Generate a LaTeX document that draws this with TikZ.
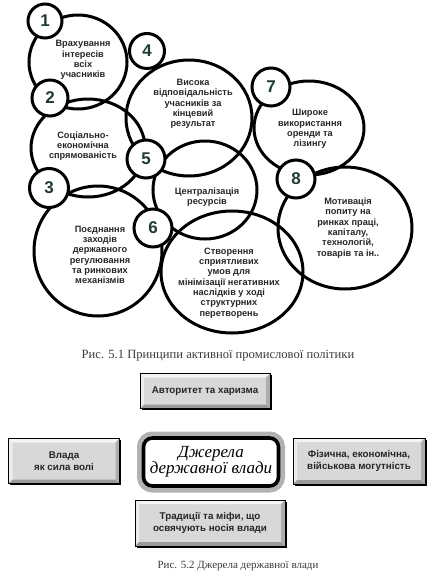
\documentclass[tikz,border=0pt]{standalone}
\usepackage{fontspec}
\setmainfont{Liberation Serif}
\setsansfont{Liberation Sans}
\usetikzlibrary{shadows}
\definecolor{numgreen}{HTML}{1E3D2E}
\definecolor{txt}{HTML}{262626}
\definecolor{boxface}{HTML}{D8D8D8}
\definecolor{bevhi}{HTML}{F4F4F4}
\definecolor{bevlo}{HTML}{9A9A9A}
\definecolor{capgray}{HTML}{3A3A3A}
\newcommand\lab{\fontsize{9.2}{10.3}\selectfont\sffamily\bfseries}
\tikzset{
  ring/.style={line width=3pt},
  num/.style={circle, draw, line width=3pt, fill=white, text=numgreen,
    font=\fontsize{17}{17}\selectfont\sffamily\bfseries, inner sep=0pt},
  clabel/.style={font=\lab, text=txt, align=center, inner sep=0pt},
  bevel/.style={draw=black, line width=0.9pt, fill=boxface, font=\fontsize{9.8}{12.5}\selectfont\sffamily\bfseries,
    text=txt, align=center, inner sep=2pt,
    drop shadow={opacity=1, fill=black, shadow xshift=1.8pt, shadow yshift=-1.8pt},
    path picture={
      \fill[bevhi] (path picture bounding box.north west) -- (path picture bounding box.north east)
        -- ([shift={(-4pt,-4pt)}]path picture bounding box.north east)
        -- ([shift={(4pt,-4pt)}]path picture bounding box.north west) -- cycle;
      \fill[bevhi!70!boxface] (path picture bounding box.north west) -- (path picture bounding box.south west)
        -- ([shift={(4pt,4pt)}]path picture bounding box.south west)
        -- ([shift={(4pt,-4pt)}]path picture bounding box.north west) -- cycle;
      \fill[bevlo] (path picture bounding box.south west) -- (path picture bounding box.south east)
        -- ([shift={(-4pt,4pt)}]path picture bounding box.south east)
        -- ([shift={(4pt,4pt)}]path picture bounding box.south west) -- cycle;
      \fill[bevlo!70!boxface] (path picture bounding box.north east) -- (path picture bounding box.south east)
        -- ([shift={(-4pt,4pt)}]path picture bounding box.south east)
        -- ([shift={(-4pt,-4pt)}]path picture bounding box.north east) -- cycle;
    }},
  caption/.style={text=capgray, inner sep=0pt}
}
\begin{document}
\begin{tikzpicture}[x=1pt,y=-1pt]
\useasboundingbox (0,0) rectangle (435,576);
% big circles
\draw[ring] (78,62) ellipse [x radius=49pt, y radius=47pt];
\draw[ring] (88,148) ellipse [x radius=57pt, y radius=49pt];
\draw[ring] (98,251) ellipse [x radius=64pt, y radius=65pt];
\draw[ring] (189,118) ellipse [x radius=63pt, y radius=58pt];
\draw[ring] (205,190) ellipse [x radius=52pt, y radius=49pt];
\draw[ring] (232,272) ellipse [x radius=71pt, y radius=61pt];
\draw[ring] (309,128) ellipse [x radius=55pt, y radius=47pt];
\draw[ring] (345,228) ellipse [x radius=67pt, y radius=61pt];
% labels
\node[clabel] (t1) at (83,60) {Врахування\\інтересів\\всіх\\учасників};
\node[clabel] (t2) at (83,146) {Соціально-\\економічна\\спрямованість};
\node[clabel] (t3) at (100,255) {Поєднання\\заходів\\державного\\регулювання\\та ринкових\\механізмів};
\node[clabel] (t4) at (193,104) {Висока\\відповідальність\\учасників за\\кінцевий\\результат};
\node[clabel] (t5) at (207,197) {Централізація\\ресурсів};
\node[clabel] (t6) at (229,283) {Створення\\сприятливих\\умов для\\мінімізації негативних\\наслідків у ході\\структурних\\перетворень};
\node[clabel] (t7) at (310,129) {Широке\\використання\\оренди та\\лізингу};
\node[clabel] (t8) at (348,228) {Мотивація\\попиту на\\ринках праці,\\капіталу,\\технологій,\\товарів та ін..};
% small numbered circles
\node[num, minimum size=34pt] (n1) at (45,21) {1};
\node[num, minimum size=35pt] (n4) at (147,51) {4};
\node[num, minimum size=36pt] (n2) at (50,98) {2};
\node[num, minimum size=38pt] (n5) at (146,159) {5};
\node[num, minimum size=39pt] (n3) at (49,188) {3};
\node[num, minimum size=38pt] (n6) at (153,228) {6};
\node[num, minimum size=38pt] (n7) at (271,87) {7};
\node[num, minimum size=38pt] (n8) at (296,179) {8};
\node[caption, font=\fontsize{12.6}{14}\selectfont] (cap1) at (218,356) {Рис. 5.1 Принципи активної промислової політики};
% figure 5.2
\node[bevel, minimum width=130pt, minimum height=35pt] (auth) at (205,391) {Авторитет та харизма};
\node[bevel, minimum width=111pt, minimum height=45pt] (will) at (64,461) {Влада\\як сила волі};
\node[bevel, minimum width=132pt, minimum height=46pt] (phys) at (359,461) {Фізична, економічна,\\військова могутність};
\node[bevel, minimum width=150pt, minimum height=46pt] (trad) at (210,523) {Традиції та міфи, що\\освячують носія влади};
\node[draw=black, line width=3.6pt, fill=white, rounded corners=9pt,
  minimum width=135pt, minimum height=48pt, align=center, text=black,
  font=\fontsize{17}{16}\selectfont\itshape, inner sep=1pt,
  preaction={draw=gray!60, line width=13pt, rounded corners=12pt}] (src) at (211,462) {Джерела\\державної влади};
\node[caption, font=\fontsize{11}{13}\selectfont] (cap2) at (238,566) {Рис. 5.2 Джерела державної влади};
\end{tikzpicture}
\end{document}
